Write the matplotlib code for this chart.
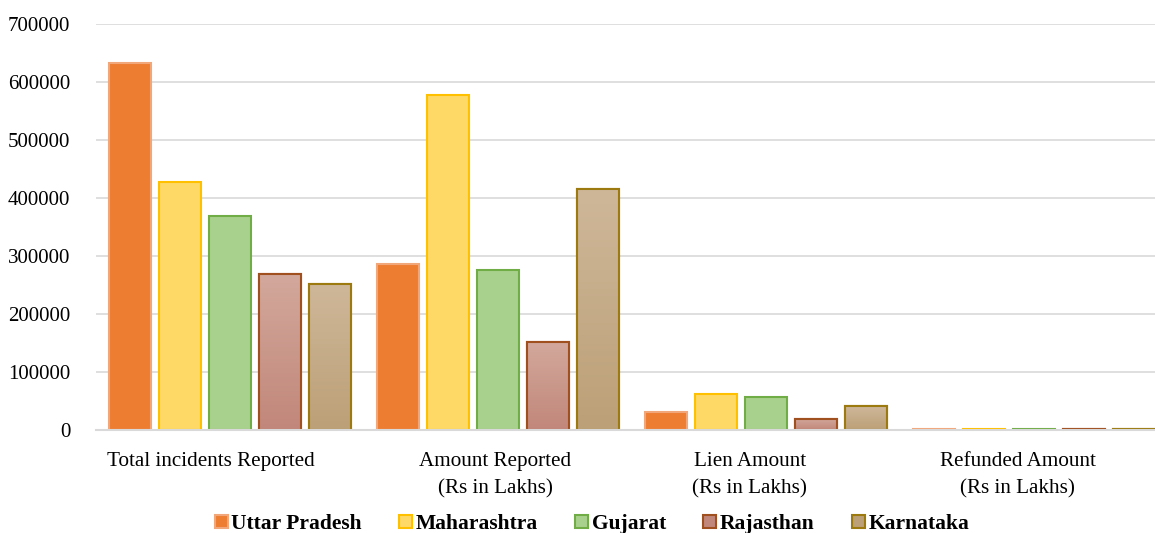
import numpy as np
import matplotlib
matplotlib.use("Agg")
import matplotlib.pyplot as plt
from matplotlib.patches import Patch
from matplotlib.colors import to_rgb

plt.rcParams['font.family'] = ['Liberation Serif', 'DejaVu Serif']

categories = ["Total incidents Reported", "Amount Reported\n(Rs in Lakhs)",
              "Lien Amount\n(Rs in Lakhs)", "Refunded Amount\n(Rs in Lakhs)"]
states = ["Uttar Pradesh", "Maharashtra", "Gujarat", "Rajasthan", "Karnataka"]

uttar_pradesh = [632000, 286000, 31000, 1500]
maharashtra = [427000, 577000, 62000, 1500]
gujarat = [369000, 276000, 57000, 1500]
rajasthan = [269000, 152000, 19000, 1500]
karnataka = [252000, 415000, 41000, 1500]
values = [uttar_pradesh, maharashtra, gujarat, rajasthan, karnataka]

yticks = [0, 100000, 200000, 300000, 400000, 500000, 600000, 700000]

# fill (top, bottom) and edge colours, Excel style
fills = [("#ED7D31", "#ED7D31"), ("#FFD966", "#FFD966"), ("#A9D18E", "#A9D18E"),
         ("#D3A89C", "#C1877A"), ("#CEB799", "#BCA077")]
edges = ["#F2A77A", "#FFC000", "#70AD47", "#A0501E", "#9C7A10"]

fig = plt.figure(figsize=(11.55, 5.33), dpi=100)
ax = fig.add_axes([96 / 1155, 1 - 430 / 533, 1072 / 1155, 406 / 533])

x = np.arange(len(categories))
step = 0.1866
width = 0.157

for i, (name, vals) in enumerate(zip(states, values)):
    pos = x + (i - 2) * step
    bars = ax.bar(pos, vals, width, color=fills[i][0], edgecolor=edges[i],
                  linewidth=1.5, zorder=3, label=name)
    if fills[i][0] != fills[i][1]:
        # vertical gradient fill, clipped to each bar
        top = np.array(to_rgb(fills[i][0]))
        bot = np.array(to_rgb(fills[i][1]))
        grad = np.linspace(0, 1, 64)[:, None]
        img = (top[None, :] * (1 - grad) + bot[None, :] * grad)[:, None, :]
        for b in bars:
            bx, bw, bh = b.get_x(), b.get_width(), b.get_height()
            im = ax.imshow(img, extent=[bx, bx + bw, 0, bh], aspect='auto',
                           zorder=3.5, origin='upper', interpolation='bilinear')
            im.set_clip_path(b)
            ax.bar(bx + bw / 2, bh, bw, color='none',
                   edgecolor=edges[i], linewidth=1.5, zorder=4)

ax.set_xlim(-0.5, 3.5)
ax.set_ylim(0, 700000)
ax.set_yticks(yticks)
ax.set_yticklabels([str(v) for v in yticks], fontsize=15)
ax.set_xticks(x + np.array([-0.07, -0.01, -0.06, -0.06]))
ax.set_xticklabels(categories, fontsize=15.2, linespacing=1.55)
ax.tick_params(axis='both', length=0)
ax.tick_params(axis='y', pad=18.5)
ax.tick_params(axis='x', pad=16)

ax.grid(axis='y', color='#D9D9D9', linewidth=1.2, zorder=0)
for s in ['top', 'right', 'left']:
    ax.spines[s].set_visible(False)
ax.spines['bottom'].set_color('#D9D9D9')
ax.spines['bottom'].set_linewidth(1.5)
ax.spines['bottom'].set_zorder(5)

handles = [Patch(facecolor=fills[i][1], edgecolor=edges[i], linewidth=1.5)
           for i in range(len(states))]
fig.legend(handles, states, loc='center', bbox_to_anchor=(592 / 1155, 1 - 524 / 533),
           ncol=5, frameon=False, handlelength=0.6, handleheight=0.6,
           handletextpad=0.15, columnspacing=1.75,
           prop={'weight': 'bold', 'size': 15.5})

fig.savefig("out.png", dpi=100)
